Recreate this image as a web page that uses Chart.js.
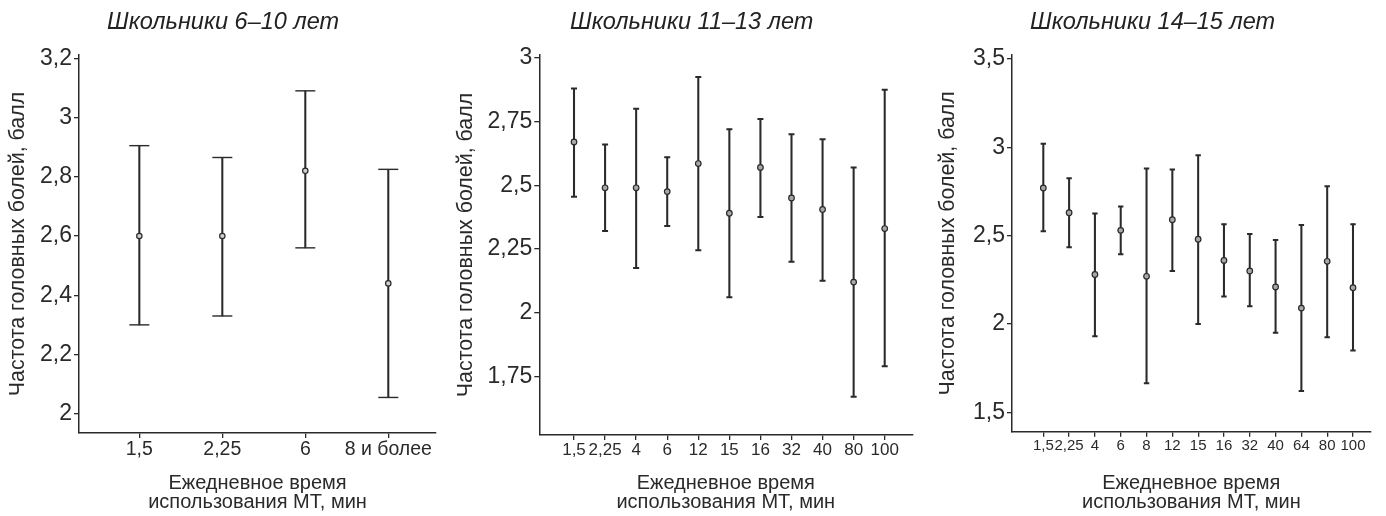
<!DOCTYPE html>
<html lang="ru">
<head>
<meta charset="utf-8">
<script src="https://cdn.jsdelivr.net/npm/chart.js@4.4.0/dist/chart.umd.min.js"></script>
<style>
  body { margin: 0; background: #fff; }
  #wrap { position: relative; width: 1386px; height: 516px; overflow: hidden; background: #fff; }
  canvas { position: absolute; top: 0; }
  .ttl { position: absolute; top: 8px; font: italic 23.5px "Liberation Sans", Arial, sans-serif; color: #222; white-space: nowrap; line-height: 26px; }
</style>
</head>
<body>
<div id="wrap">
  <canvas id="c1" width="460" height="516" style="left:0px"></canvas>
  <canvas id="c2" width="481" height="516" style="left:445px"></canvas>
  <canvas id="c3" width="460" height="516" style="left:926px"></canvas>
  <div class="ttl" style="left:107px">Школьники 6–10 лет</div>
  <div class="ttl" style="left:570px">Школьники 11–13 лет</div>
  <div class="ttl" style="left:1030px">Школьники 14–15 лет</div>
</div>
<script>
const ink = '#2a2a2a';
const sans = '"Liberation Sans", Arial, sans-serif';

// школьники 6–10 лет
const cats1 = ['1,5', '2,25', '6', '8 и более'];
const mean1 = [2.60, 2.60, 2.82, 2.44];
const low1 = [2.30, 2.33, 2.56, 2.055];
const high1 = [2.905, 2.865, 3.09, 2.825];
const yTicks1 = [2, 2.2, 2.4, 2.6, 2.8, 3, 3.2];

// школьники 11–13 лет
const cats2 = ['1,5', '2,25', '4', '6', '12', '15', '16', '32', '40', '80', '100'];
const mean2 = [2.67, 2.49, 2.49, 2.475, 2.585, 2.39, 2.57, 2.45, 2.405, 2.12, 2.33];
const low2 = [2.455, 2.32, 2.175, 2.34, 2.245, 2.06, 2.375, 2.20, 2.125, 1.67, 1.79];
const high2 = [2.88, 2.66, 2.80, 2.61, 2.925, 2.72, 2.76, 2.70, 2.68, 2.57, 2.875];
const yTicks2 = [1.75, 2, 2.25, 2.5, 2.75, 3];

// школьники 14–15 лет
const cats3 = ['1,5', '2,25', '4', '6', '8', '12', '15', '16', '32', '40', '64', '80', '100'];
const mean3 = [2.77, 2.63, 2.28, 2.53, 2.27, 2.59, 2.48, 2.36, 2.30, 2.21, 2.09, 2.355, 2.205];
const low3 = [2.525, 2.435, 1.93, 2.395, 1.665, 2.30, 2.0, 2.155, 2.10, 1.95, 1.62, 1.925, 1.85];
const high3 = [3.02, 2.825, 2.625, 2.665, 2.88, 2.875, 2.955, 2.565, 2.51, 2.475, 2.56, 2.78, 2.565];
const yTicks3 = [1.5, 2, 2.5, 3, 3.5];

const xTitle = ['Ежедневное время', 'использования МТ, мин'];
const yTitle = 'Частота головных болей, балл';

function panel(id, p) {
  const pts = vals => vals.map((v, i) => ({ x: i, y: v }));
  const axisGrid = { display: true, drawOnChartArea: false, drawTicks: true, tickLength: 5, color: ink, lineWidth: 1.3, offset: false };
  const axisBorder = { display: true, color: ink, width: 1.5 };
  return new Chart(document.getElementById(id), {
    type: 'scatter',
    data: {
      datasets: [
        { data: pts(p.mean), pointStyle: 'circle', pointRadius: p.dot, backgroundColor: p.dotFill, borderColor: ink, borderWidth: 1.2, order: 0 },
        { data: pts(p.high).concat(pts(p.low)), pointStyle: 'line', pointRadius: p.cap, borderColor: ink, borderWidth: p.capW, order: 1 },
        { type: 'bar', data: p.low.map((v, i) => ({ x: i, y: [v, p.high[i]] })), backgroundColor: ink, barThickness: 1.4, grouped: false, order: 2 }
      ]
    },
    options: {
      responsive: false,
      animation: false,
      events: [],
      layout: { padding: { top: 55, right: p.padRight, bottom: 0, left: 0 } },
      plugins: { legend: { display: false }, tooltip: { enabled: false } },
      scales: {
        x: {
          type: 'linear', min: p.xMin, max: p.xMax, offset: false,
          afterBuildTicks: s => { s.ticks = p.cats.map((_, i) => ({ value: i })); },
          afterFit: s => { s.height = p.xHeight; },
          grid: axisGrid,
          border: axisBorder,
          ticks: { autoSkip: false, maxRotation: 0, padding: 0, color: ink, font: { family: sans, size: p.xSize }, callback: v => p.cats[v] },
          title: { display: true, text: xTitle, color: ink, font: { family: sans, size: 20, lineHeight: '19px' }, padding: { top: 0, bottom: 4 } }
        },
        y: {
          min: p.yMin, max: p.yMax,
          afterBuildTicks: s => { s.ticks = p.yTicks.map(v => ({ value: v })); },
          afterFit: s => { s.width = p.yWidth; },
          grid: axisGrid,
          border: axisBorder,
          ticks: { padding: 2, color: ink, font: { family: sans, size: 23 }, callback: v => String(v).replace('.', ',') },
          title: { display: true, text: yTitle, color: ink, font: { family: sans, size: 21.4 }, padding: { top: p.yTitlePad, bottom: 0 } }
        }
      }
    }
  });
}

panel('c1', {
  cats: cats1, mean: mean1, low: low1, high: high1, yTicks: yTicks1,
  xMin: -0.727, xMax: 3.575, yMin: 1.935, yMax: 3.211,
  yWidth: 79, xHeight: 83, padRight: 24, yTitlePad: 5.5,
  xSize: 19.5, dot: 2.7, dotFill: '#d0d0d0', cap: 10, capW: 1.4
});
panel('c2', {
  cats: cats2, mean: mean2, low: low2, high: high2, yTicks: yTicks2,
  xMin: -1.117, xMax: 10.888, yMin: 1.52, yMax: 3.011,
  yWidth: 94.3, xHeight: 81, padRight: 13.7, yTitlePad: 8.2,
  xSize: 17, dot: 2.8, dotFill: '#a8a8a8', cap: 3, capW: 2
});
panel('c3', {
  cats: cats3, mean: mean3, low: low3, high: high3, yTicks: yTicks3,
  xMin: -1.213, xMax: 12.686, yMin: 1.39, yMax: 3.523,
  yWidth: 86, xHeight: 84.3, padRight: 15.3, yTitlePad: 9.2,
  xSize: 15, dot: 2.8, dotFill: '#a8a8a8', cap: 2.7, capW: 2
});
</script>
</body>
</html>
